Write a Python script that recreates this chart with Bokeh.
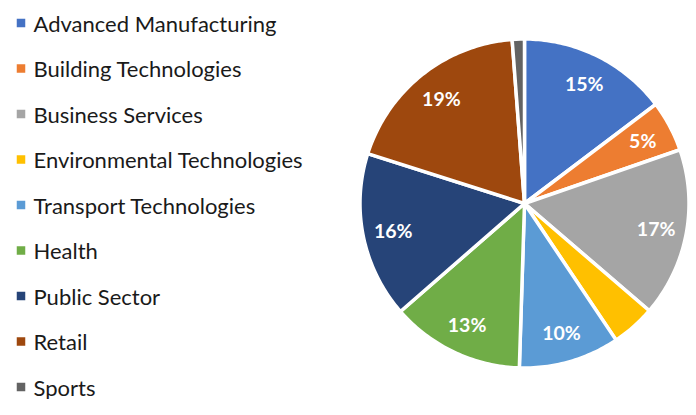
import numpy as np
from bokeh.plotting import figure
from bokeh.models import Range1d, ColumnDataSource
from bokeh.core.properties import value
from bokeh.embed import file_html
from bokeh.resources import INLINE

categories = ["Advanced Manufacturing", "Building Technologies", "Business Services",
              "Environmental Technologies", "Transport Technologies", "Health",
              "Public Sector", "Retail", "Sports"]
shares = [14.7, 5.0, 16.6, 4.3, 9.9, 13.1, 16.3, 18.9, 1.2]
labels = ["15%", "5%", "17%", "", "10%", "13%", "16%", "19%", ""]
colors = ["#4472C4", "#ED7D31", "#A5A5A5", "#FFC000", "#5B9BD5",
          "#70AD47", "#264478", "#9E480E", "#636363"]

W, H = 688, 399
p = figure(width=W, height=H, output_backend="svg", toolbar_location=None,
           x_range=Range1d(0, W), y_range=Range1d(H, 0), min_border=0)
p.axis.visible = False
p.grid.visible = False
p.outline_line_color = None
p.background_fill_color = "white"

# pie geometry in screen px (y down)
cx, cy, R = 524, 203, 164.5
vals = np.array(shares)
frac = vals / vals.sum()
cum = np.concatenate([[0], np.cumsum(frac)])
# start at 12 o'clock and proceed clockwise on screen (y axis inverted)
ang0 = -np.pi / 2 + cum[:-1] * 2 * np.pi
ang1 = -np.pi / 2 + cum[1:] * 2 * np.pi
mid = (ang0 + ang1) / 2

xs, ys = [], []
for a0, a1 in zip(ang0, ang1):
    t = np.linspace(a0, a1, max(int((a1 - a0) * 60), 4))
    xs.append(np.concatenate([[cx], cx + R * np.cos(t)]).tolist())
    ys.append(np.concatenate([[cy], cy + R * np.sin(t)]).tolist())
src = ColumnDataSource(dict(xs=xs, ys=ys, color=colors, cat=categories))
p.patches(xs="xs", ys="ys", fill_color="color", line_color="white", line_width=3.5,
          line_join="miter", source=src)

lr = 134
lab = ColumnDataSource(dict(x=cx + lr * np.cos(mid), y=cy + lr * np.sin(mid), t=labels))
p.text(x="x", y="y", text="t", source=lab, text_color="white", text_font=value("Lato"),
       text_font_style="bold", text_font_size="19.5px", text_align="center",
       text_baseline="middle")

# legend
n = len(categories)
step = 45.5
leg = ColumnDataSource(dict(x=[20.5] * n, y=[22.5 + step * i for i in range(n)],
                            color=colors, cat=categories,
                            tx=[33] * n, ty=[22.5 + step * i for i in range(n)]))
p.scatter(x="x", y="y", marker="square", size=8.5, fill_color="color", line_color=None, source=leg)
p.text(x="tx", y="ty", text="cat", source=leg, text_color="#1a1a1a", text_font=value("Lato"),
       text_font_size="22px", text_align="left", text_baseline="middle")

open("out.html", "w").write(file_html(p, INLINE))
